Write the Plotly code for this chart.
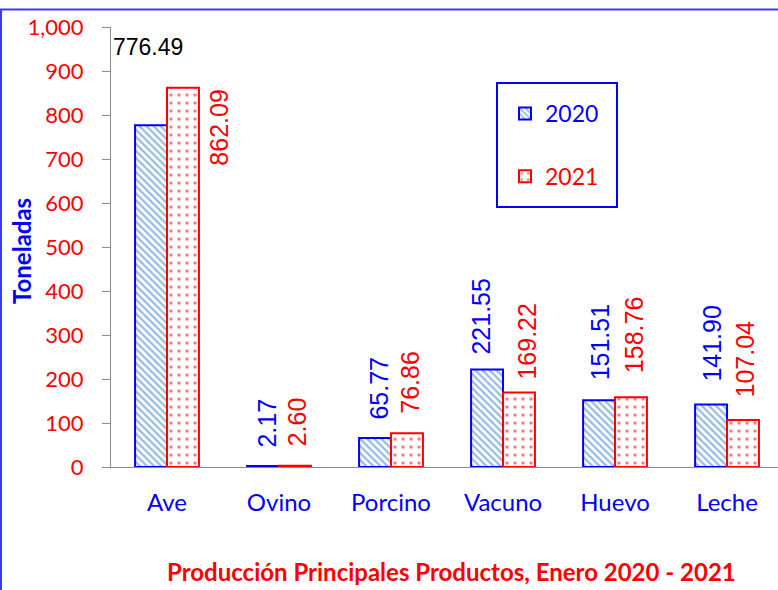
import plotly.graph_objects as go

categories = ["Ave", "Ovino", "Porcino", "Vacuno", "Huevo", "Leche"]
v2020 = [776.49, 2.17, 65.77, 221.55, 151.51, 141.90]
v2021 = [862.09, 2.60, 76.86, 169.22, 158.76, 107.04]
y_ticks = [0, 100, 200, 300, 400, 500, 600, 700, 800, 900, 1000]

# label offsets (pixels): horizontal shift from category centre, gap above bar
dx_2020 = [-19, -12, -12, -23, -15, -15]
gap_2020 = [63, 16, 16, 13, 18, 21]
dx_2021 = [52, 18, 19, 24, 19, 18]
gap_2021 = [0, 17, 17, 11, 22, 20]

BLUE = "#0000FF"
RED = "#FF0000"
GRID = "#8C8C8C"

fig = go.Figure()
fig.add_trace(go.Bar(
    x=categories, y=v2020, name="<span style='color:#0000FF'>2020</span>",
    legendgroup="a",
    marker=dict(color="white", line=dict(color=BLUE, width=2),
                pattern=dict(shape="\\", fgcolor="#2E75C8", bgcolor="white",
                             size=5, solidity=0.45)),
))
fig.add_trace(go.Bar(
    x=categories, y=v2021, name="<span style='color:#FF0000'>2021</span>",
    legendgroup="b",
    marker=dict(color="white", line=dict(color=RED, width=2),
                pattern=dict(shape=".", fgcolor=RED, bgcolor="white",
                             size=8, solidity=0.15)),
))

annotations = []
for i, c in enumerate(categories):
    if i == 0:
        annotations.append(dict(
            x=c, y=v2020[i], xref="x", yref="y", text=f"{v2020[i]:.2f}",
            showarrow=False, xshift=dx_2020[i], yshift=gap_2020[i],
            yanchor="bottom", xanchor="center",
            font=dict(family="Liberation Sans", size=23, color="black")))
    else:
        annotations.append(dict(
            x=c, y=v2020[i], xref="x", yref="y", text=f"{v2020[i]:.2f}",
            showarrow=False, xshift=dx_2020[i], yshift=gap_2020[i],
            yanchor="bottom", xanchor="center", textangle=-90,
            font=dict(family="Liberation Sans", size=25, color=BLUE)))
    annotations.append(dict(
        x=c, y=v2021[i], xref="x", yref="y", text=f"{v2021[i]:.2f}",
        showarrow=False, xshift=dx_2021[i], yshift=gap_2021[i],
        yanchor="top" if i == 0 else "bottom", xanchor="center", textangle=-90,
        font=dict(family="Liberation Sans", size=25, color=RED)))

annotations.append(dict(
    x=-0.1334, y=0.491, xref="paper", yref="paper", text="<b>Toneladas</b>",
    showarrow=False, textangle=-90, xanchor="center", yanchor="middle",
    font=dict(family="Lato", size=24, color=BLUE)))
annotations.append(dict(
    x=0.511, y=-0.2386, xref="paper", yref="paper",
    text="<b>Producción Principales Productos, Enero 2020 - 2021</b>",
    showarrow=False, xanchor="center", yanchor="middle",
    font=dict(family="Lato", size=24, color=RED)))

shapes = [
    dict(type="rect", xref="paper", yref="paper",
         x0=-0.1649, x1=1.02, y0=-0.33, y1=1.0398,
         line=dict(color="#3B3BF0", width=2)),
    dict(type="rect", xref="paper", yref="paper",
         x0=(497 - 111) / 667, x1=(617 - 111) / 667,
         y0=1 - (207 - 27) / 440, y1=1 - (83 - 27) / 440,
         line=dict(color=BLUE, width=2)),
]

fig.update_layout(
    width=778, height=590,
    margin=dict(l=111, r=0, t=27, b=123),
    paper_bgcolor="white", plot_bgcolor="white",
    barmode="group", bargap=0.43, bargroupgap=0,
    showlegend=True,
    legend=dict(x=(505 - 111) / 667, y=1 - (92 - 27) / 440,
                xanchor="left", yanchor="top",
                bgcolor="rgba(0,0,0,0)", borderwidth=0,
                font=dict(family="Lato", size=23),
                tracegroupgap=30, traceorder="grouped", itemwidth=30),
    annotations=annotations,
    shapes=shapes,
    xaxis=dict(range=[-0.5, 5.455], showline=True, linecolor=GRID, linewidth=1,
               ticks="", tickfont=dict(family="Lato", size=24, color=BLUE),
               ticklabelstandoff=14, showgrid=False, zeroline=False),
    yaxis=dict(range=[0, 1000], tickvals=y_ticks, tickformat=",",
               showline=True, linecolor=GRID, linewidth=1,
               ticks="outside", ticklen=8, tickcolor=GRID,
               tickfont=dict(family="Lato", size=22, color=RED),
               ticklabelstandoff=14, showgrid=False, zeroline=False),
)

fig.write_html("out.html", config={"displayModeBar": False},
               post_script="document.body.style.margin='0';")
